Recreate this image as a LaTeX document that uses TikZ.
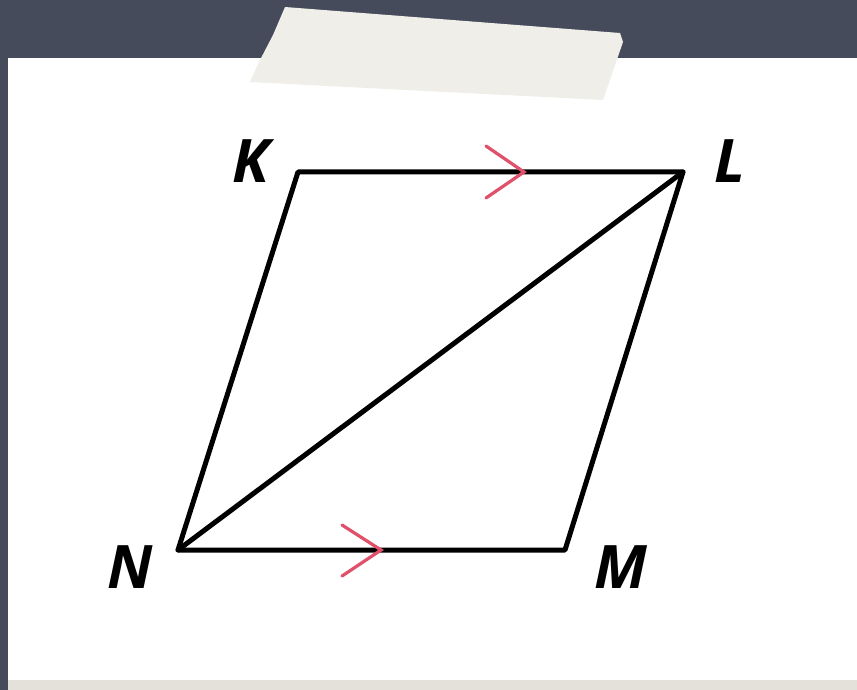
\documentclass[tikz,border=0pt]{standalone}
\usepackage{fontspec}
\setsansfont{Open Sans}
\usetikzlibrary{positioning}
\definecolor{slate}{HTML}{464B5B}
\definecolor{tapegray}{HTML}{EFEEE8}
\definecolor{markred}{HTML}{E0506A}
\definecolor{stripgray}{HTML}{E3E1D9}

\begin{document}
\begin{tikzpicture}[
  x=1pt, y=-1pt,
  edge/.style={line width=5pt, line cap=round, line join=round},
  chev/.style={draw=markred, line width=3.2pt, line cap=round, line join=miter},
  vlbl/.style={font=\fontsize{60}{64}\selectfont\sffamily\itshape\bfseries, inner sep=0pt}]

% ---- sheet and background ----
\useasboundingbox (0,0) rectangle (857,690);
\fill[slate] (0,0) rectangle (857,690);
\fill[white] (8,58) rectangle (857,690);
\fill[stripgray] (8,680) rectangle (857,690);
\fill[tapegray] (285,7) -- (620,33) -- (623,42) -- (603,100) -- (250,82) -- (260,60) -- (273,35) -- cycle;

% ---- vertices ----
\coordinate (K) at (298,172);
\coordinate (L) at (683,172);
\coordinate (M) at (565,550);
\coordinate (N) at (178,550);

\node[vlbl] (labK) at (251,161) {K};
\node[vlbl] (labL) at (730,161) {L};
\node[vlbl] (labN) at (130,567) {N};
\node[vlbl] (labM) at (621,567) {M};

% ---- figure ----
\draw[edge] (K) -- (L) -- (M) -- (N) -- cycle;
\draw[edge] (N) -- (L);

% ---- parallel marks ----
\draw[chev] (486,146) -- (524,172) -- (486,198);
\draw[chev] (342,525) -- (381,550) -- (342,576);
\end{tikzpicture}
\end{document}
